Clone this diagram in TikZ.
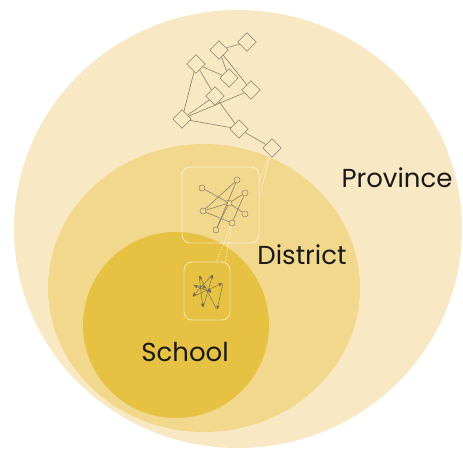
\documentclass[tikz,border=0pt]{standalone}
\usepackage{fontspec}
\setmainfont{Poppins}
\usetikzlibrary{arrows,shapes}

\definecolor{provfill}{RGB}{248,233,196}
\definecolor{distfill}{RGB}{241,216,140}
\definecolor{schfill}{RGB}{230,193,66}
\definecolor{netline}{RGB}{138,130,110}

\begin{document}
\begin{tikzpicture}[x=1pt,y=-1pt,>=stealth',auto]

	\tikzstyle{level}=[font=\fontsize{26}{30}\selectfont,text=black!90]
	\tikzstyle{unit}=[rectangle,rotate=45,draw=netline,minimum size=13pt,inner sep=0pt,line width=0.6pt]
	\tikzstyle{member}=[circle,draw=netline,minimum size=6pt,inner sep=0pt,line width=0.5pt]
	\tikzstyle{pupil}=[inner sep=0pt,minimum size=1.5pt]
	\tikzstyle{frame}=[rectangle,rounded corners=8pt,draw=white,draw opacity=0.55,line width=0.9pt]
	\tikzstyle{link}=[draw=netline,line width=0.6pt]
	\tikzstyle{tie}=[->,draw=netline!80!black,line width=0.4pt]
	\tikzstyle{zoomlink}=[draw=white,draw opacity=0.6,densely dotted,line width=0.9pt]

	\fill [white] (0,0) rectangle (463,453);
	\useasboundingbox (0,0) rectangle (463,453);

	\fill [provfill] (238,229) ellipse [x radius=224pt,y radius=219pt];
	\fill [distfill] (204,288) ellipse [x radius=156pt,y radius=144pt];
	\fill [schfill] (176,325) ellipse [x radius=93pt,y radius=93pt];

	\node [unit] (n1) at (247,42) {};
	\node [unit] (n2) at (219,50) {}
		edge [link] (n1);
	\node [unit] (n3) at (196,64) {};
	\node [unit] (n4) at (229,78) {}
		edge [link] (n2)
		edge [link] (n3);
	\node [unit] (n5) at (251,90) {}
		edge [link] (n2);
	\node [unit] (n6) at (215,96) {}
		edge [link] (n3);
	\node [unit] (n7) at (182,119) {}
		edge [link] (n3)
		edge [link] (n6)
		edge [link] (n5);
	\node [unit] (n8) at (239,129) {}
		edge [link] (n6)
		edge [link] (n7);
	\node [unit] (n9) at (272,148) {}
		edge [link] (n8);

	\node [frame,minimum width=77pt,minimum height=76pt] (dbox) at (220.5,205) {};
	\node [frame,minimum width=46pt,minimum height=58pt] (sbox) at (207,291) {};

	\node [member] (m1) at (202,188) {};
	\node [member] (m2) at (237,180) {};
	\node [member] (m3) at (245,193) {};
	\node [member] (m4) at (229,203) {}
		edge [link] (m1)
		edge [link] (m3);
	\node [member] (m5) at (203,211) {}
		edge [link] (m2)
		edge [link] (m4);
	\node [member] (m6) at (245,214) {}
		edge [link] (m4);
	\node [member] (m7) at (232,223) {}
		edge [link] (m5)
		edge [link] (m3);
	\node [member] (m8) at (216,230) {}
		edge [link] (m2)
		edge [link] (m4);

	\draw [zoomlink] (n9) -- (dbox.12);
	\draw [zoomlink] (n9) -- (dbox.32);
	\draw [zoomlink] (m7) -- (sbox.72);
	\draw [zoomlink] (m7) -- (sbox.58);

	\node [pupil] (s1) at (199,275) {};
	\node [pupil] (s2) at (213,274) {};
	\node [pupil] (s3) at (193,285) {};
	\node [pupil] (s4) at (207,288) {};
	\node [pupil] (s5) at (223,283) {};
	\node [pupil] (s6) at (192,297) {};
	\node [pupil] (s7) at (203,308) {};
	\node [pupil] (s8) at (217,310) {};
	\node [pupil] (s9) at (212,293) {};

	\draw [tie] (s8) -- (s1);
	\draw [tie] (s7) -- (s2);
	\draw [tie] (s9) -- (s3);
	\draw [tie] (s6) -- (s5);
	\draw [tie] (s2) -- (s6);
	\draw [tie] (s5) -- (s8);
	\draw [tie] (s1) -- (s7);
	\draw [tie] (s3) -- (s4);
	\draw [tie] (s4) -- (s9);

	\node [level] (province) at (397,178) {Province};
	\node [level] (district) at (302,255) {District};
	\node [level] (school) at (185,352) {School};

\end{tikzpicture}
\end{document}
